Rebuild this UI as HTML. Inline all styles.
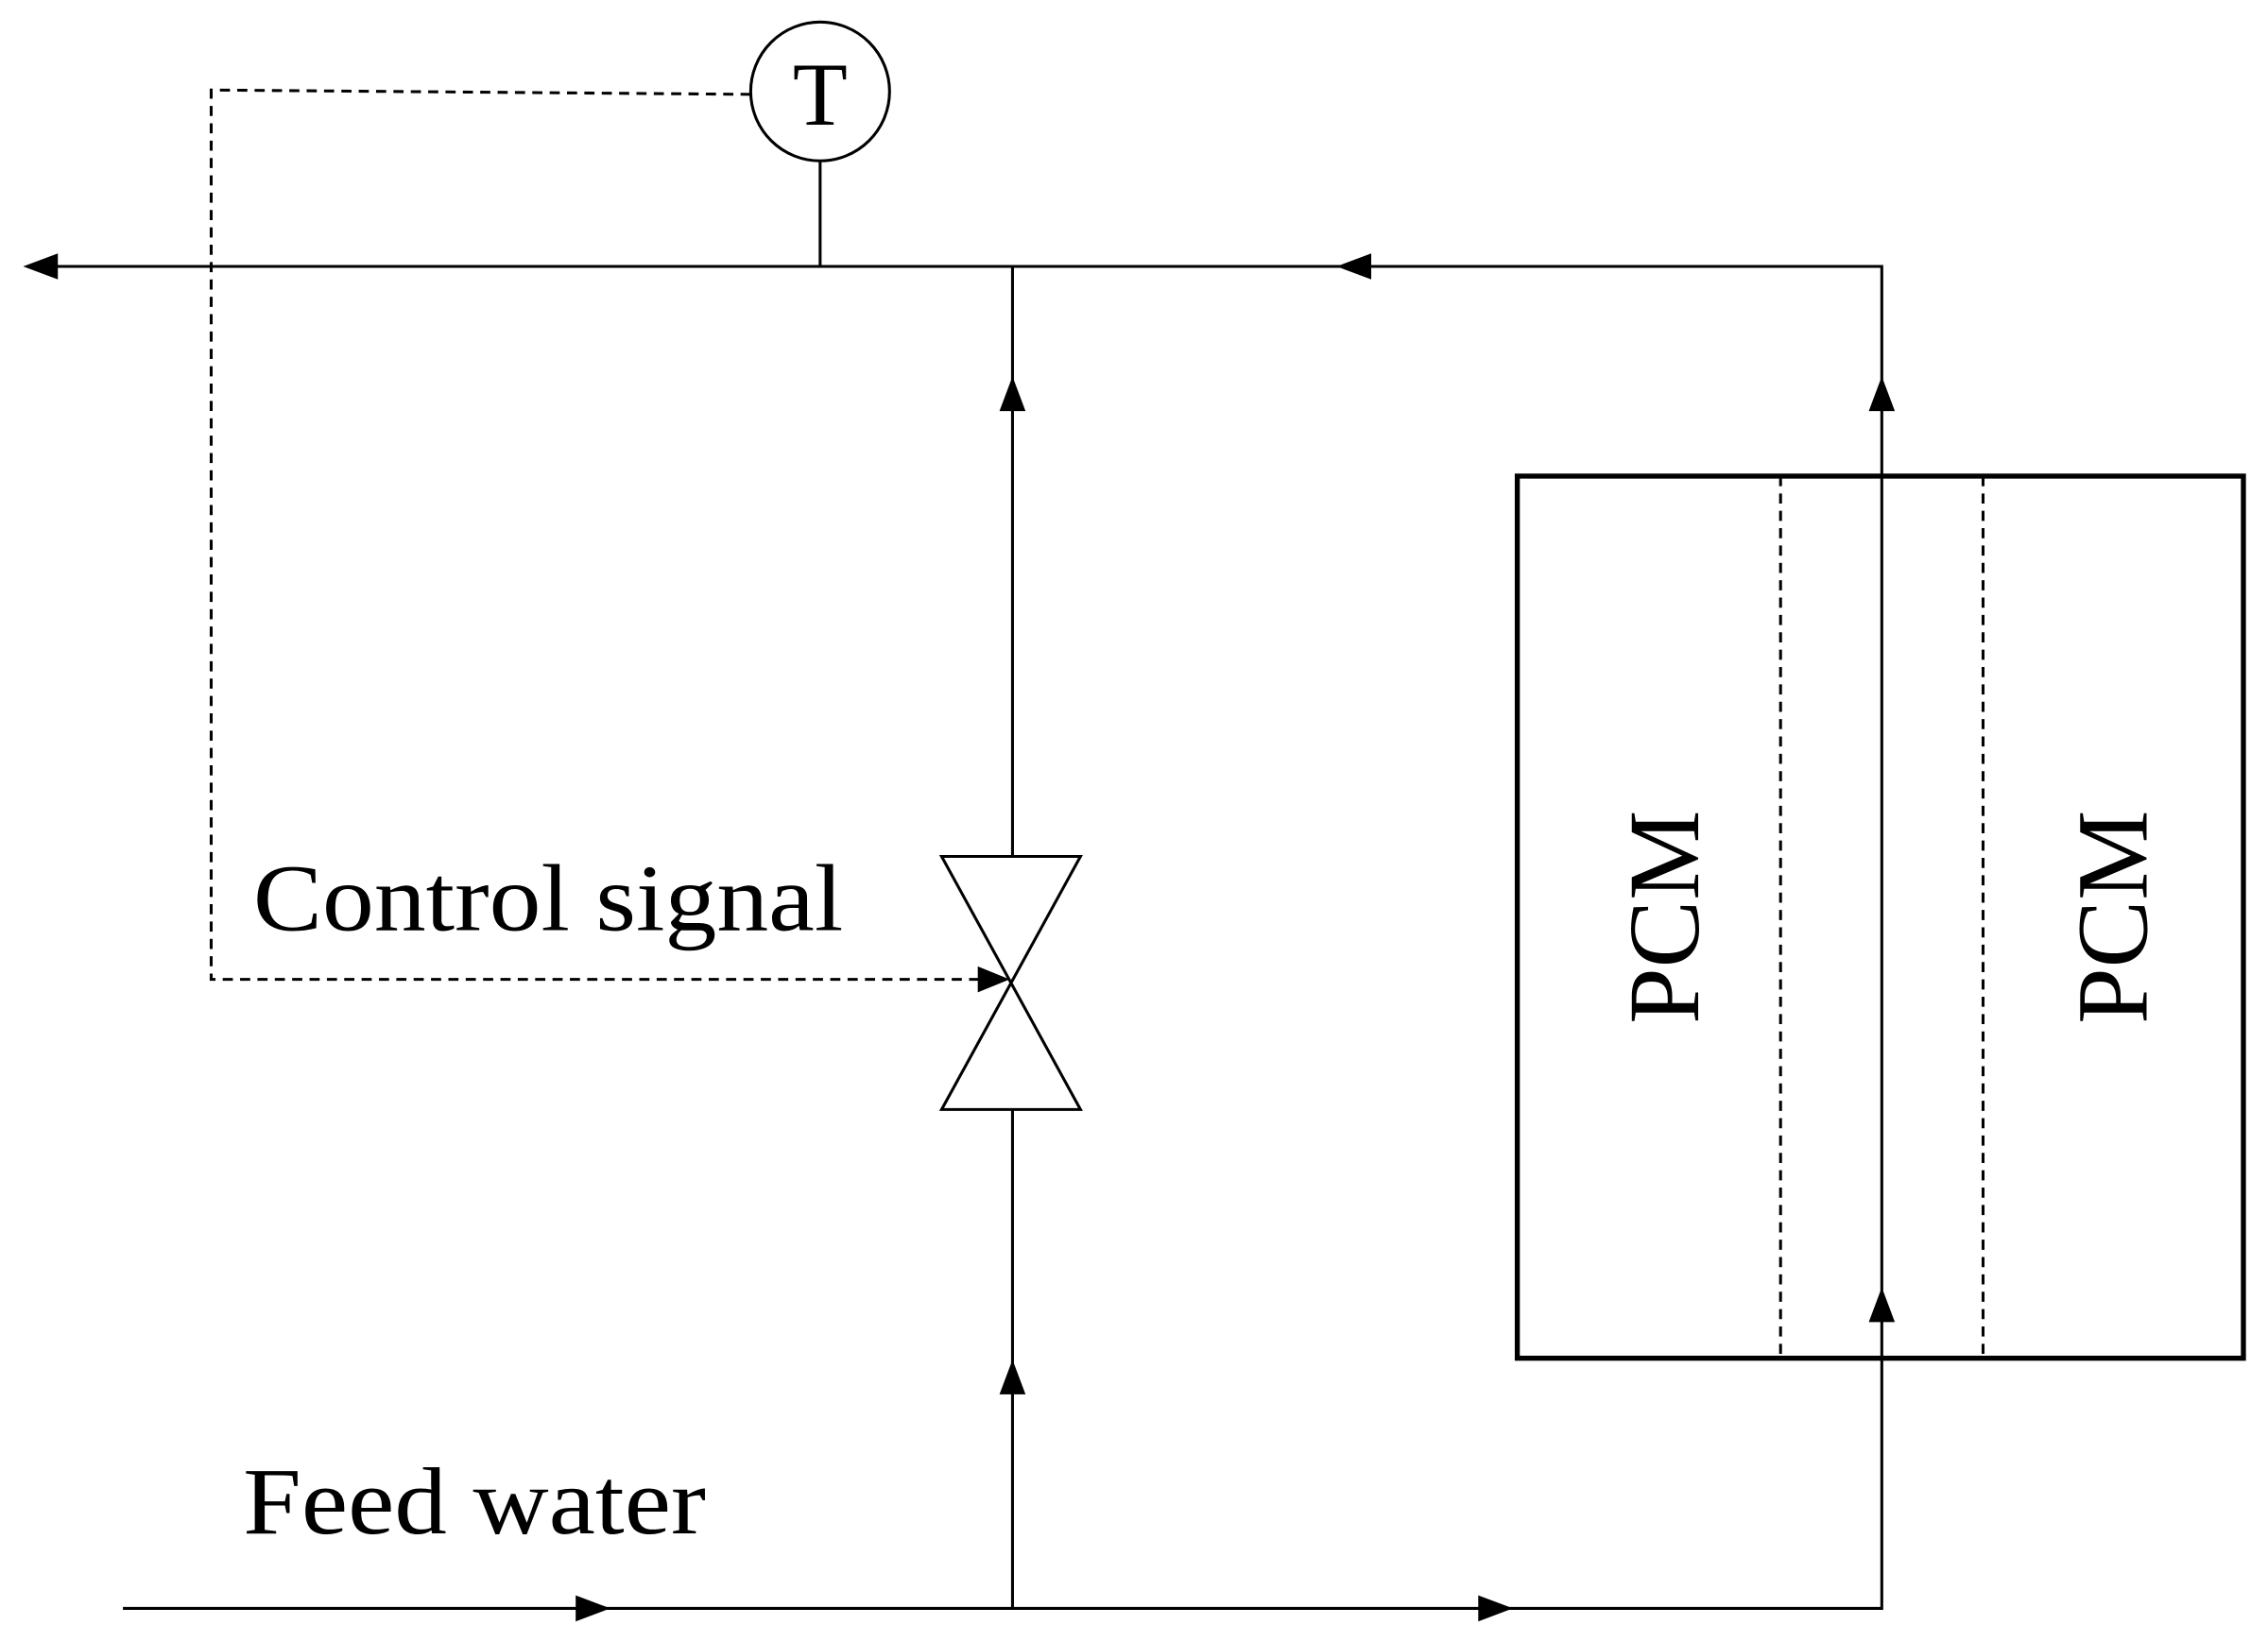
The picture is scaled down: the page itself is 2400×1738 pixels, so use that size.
<!DOCTYPE html>
<html><head><style>html,body{margin:0;padding:0;background:#fff}svg{display:block}</style></head>
<body>
<svg width="2400" height="1738" viewBox="0 0 1568 1135" xmlns="http://www.w3.org/2000/svg">
<rect width="1568" height="1135" fill="#fff"/>
<g stroke="#000" stroke-width="2" fill="none">
<circle cx="567" cy="63" r="48"/>
<path d="M519 65 L146 62 L146 677 L690 677" stroke-dasharray="7,5"/>
<path d="M567 111 V184"/>
<path d="M30 184 H1301 V1112 H85"/>
<path d="M700 184 V592 M700 767 V1112"/>
<path d="M651 592 H747 L651 767 H747 Z"/>
<rect x="1049" y="329" width="502" height="610" stroke-width="3.5"/>
<path d="M1231 329 V939 M1371 329 V939" stroke-dasharray="7,5"/>
</g>
<g fill="#000">
<polygon points="16,184 40,175 40,193"/>
<polygon points="924,184 948,175 948,193"/>
<polygon points="700,260 691,284 709,284"/>
<polygon points="700,940 691,964 709,964"/>
<polygon points="1301,260 1292,284 1310,284"/>
<polygon points="1301,890 1292,914 1310,914"/>
<polygon points="422,1112 398,1103 398,1121"/>
<polygon points="1046,1112 1022,1103 1022,1121"/>
<polygon points="698,677 676,668 676,686"/>
</g>
<g font-family="Liberation Serif, serif" fill="#000">
<text x="567" y="86" font-size="62" text-anchor="middle">T</text>
<text x="175" y="643" font-size="66" textLength="408" lengthAdjust="spacingAndGlyphs">Control signal</text>
<text x="168" y="1060" font-size="66" textLength="320" lengthAdjust="spacingAndGlyphs">Feed water</text>
<text transform="translate(1174,634) rotate(-90)" font-size="70" text-anchor="middle">PCM</text>
<text transform="translate(1484,634) rotate(-90)" font-size="70" text-anchor="middle">PCM</text>
</g>
</svg>
</body></html>
